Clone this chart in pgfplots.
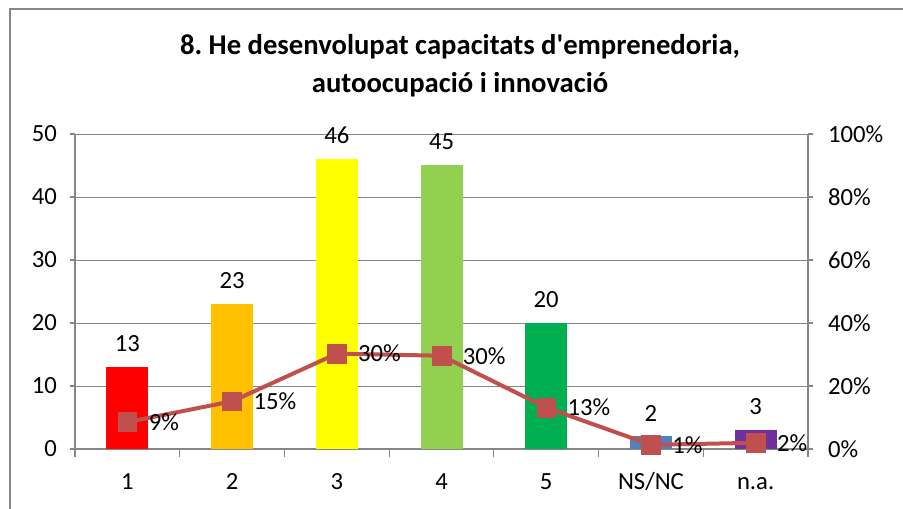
\documentclass[border=0pt]{standalone}
\usepackage{fontspec}
\setmainfont{Carlito}
\usepackage{pgfplots}
\pgfplotsset{compat=1.18}
\definecolor{cRed}{HTML}{FF0000}
\definecolor{cOrange}{HTML}{FFC000}
\definecolor{cYellow}{HTML}{FFFF00}
\definecolor{cLightGreen}{HTML}{92D050}
\definecolor{cGreen}{HTML}{00B050}
\definecolor{cBlue}{HTML}{4F81BD}
\definecolor{cPurple}{HTML}{7030A0}
\definecolor{cLine}{HTML}{C0504D}
\definecolor{cAxis}{HTML}{868686}

\newcommand{\lblfont}{\fontsize{18.5}{22}\selectfont}

\pgfplotsset{
  barstyle/.style={ybar, draw=none, bar width=31.5pt, bar shift=0pt,
    nodes near coords, nodes near coords align={vertical},
    every node near coord/.append style={font=\lblfont, color=black, yshift=8pt}},
}

\begin{document}
\begin{tikzpicture}
\useasboundingbox (0,0) rectangle (677.25pt,381.75pt);
\draw[color=cAxis, line width=0.9pt] (7.5pt,0) -- (7.5pt,375pt) -- (677.25pt,375pt);
\node[font=\fontsize{21.5}{28}\selectfont\bfseries, anchor=base] at (345pt,340.5pt)
  {8.\ He desenvolupat capacitats d\textquotesingle emprenedoria,};
\node[font=\fontsize{21.5}{28}\selectfont\bfseries, anchor=base] at (345pt,312pt)
  {autoocupació i innovació};

\begin{axis}[
  at={(56.25pt,45pt)}, anchor=south west,
  scale only axis, width=549.75pt, height=236.25pt,
  xmin=-0.5, xmax=6.5, ymin=0, ymax=50,
  xtick={0,...,6}, xticklabels={1,2,3,4,5,NS/NC,n.a.},
  major x tick style={draw=none},
  minor xtick={-0.5,0.5,...,6.5},
  ytick={0,10,...,50},
  ymajorgrids, grid style={cAxis, line width=0.7pt},
  axis x line*=bottom, axis y line*=left,
  axis line style={cAxis, line width=0.8pt, -},
  tick align=outside, tick style={cAxis, line width=0.8pt},
  major tick length=4pt, minor tick length=6pt,
  tick label style={font=\lblfont},
  yticklabel style={xshift=-6pt},
  xticklabel style={yshift=-11pt, text height=11.7pt, text depth=0pt},
  /pgf/number format/assume math mode=true,
]
\addplot[barstyle, fill=cRed] coordinates {(0,13)};
\addplot[barstyle, fill=cOrange] coordinates {(1,23)};
\addplot[barstyle, fill=cYellow] coordinates {(2,46)};
\addplot[barstyle, fill=cLightGreen] coordinates {(3,45)};
\addplot[barstyle, fill=cGreen] coordinates {(4,20)};
\addplot[barstyle, fill=cBlue] coordinates {(5,2)};
\addplot[barstyle, fill=cPurple] coordinates {(6,3)};
\end{axis}

\begin{axis}[
  at={(56.25pt,45pt)}, anchor=south west,
  scale only axis, width=549.75pt, height=236.25pt,
  xmin=-0.5, xmax=6.5, ymin=0, ymax=100,
  axis x line=none, axis y line*=right,
  ytick={0,20,...,100},
  yticklabel={\pgfmathprintnumber{\tick}\%},
  axis line style={cAxis, line width=0.8pt, -},
  tick align=outside, tick style={cAxis, line width=0.8pt},
  major tick length=4pt,
  tick label style={font=\lblfont},
  yticklabel style={xshift=7.5pt},
  /pgf/number format/assume math mode=true,
]
\addplot[color=cLine, line width=3pt, mark=square*, mark size=7pt,
  mark options={solid, line width=0.5pt, fill=cLine},
  nodes near coords, point meta=explicit symbolic,
  every node near coord/.append style={font=\lblfont, color=black, anchor=west, xshift=12.5pt, yshift=0pt}]
coordinates {
  (0,8.55) [9\%]
  (1,15.13) [15\%]
  (2,30.26) [30\%]
  (3,29.61) [30\%]
  (4,13.16) [13\%]
  (5,1.32) [1\%]
  (6,1.97) [2\%]
};
\end{axis}
\end{tikzpicture}
\end{document}
